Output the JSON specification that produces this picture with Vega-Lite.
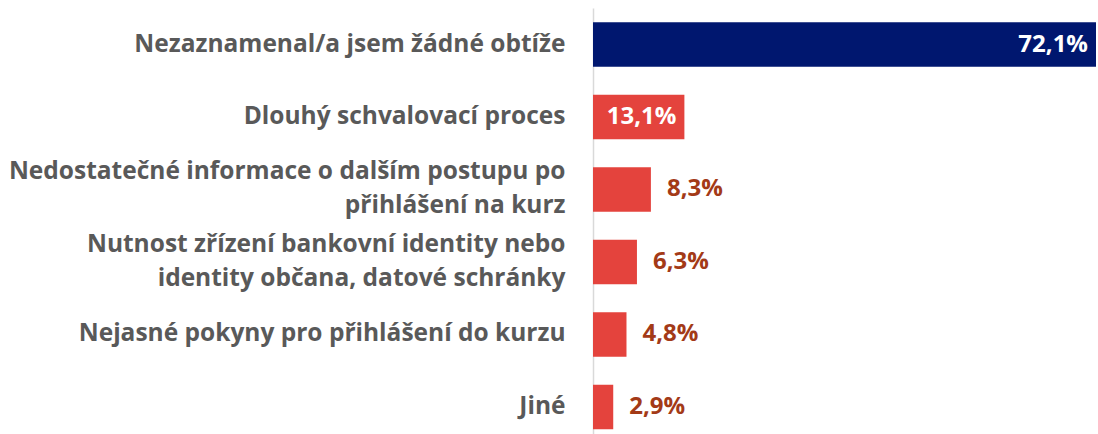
{
  "$schema": "https://vega.github.io/schema/vega-lite/v6.json",
  "autosize": {"type": "none"},
  "padding": {"left": 593, "top": 8, "right": 2, "bottom": 0},
  "width": 503,
  "height": 426,
  "background": "#ffffff",
  "config": {"view": {"stroke": null}, "font": "Open Sans"},
  "data": {
    "values": [
      {"cat": "Nezaznamenal/a jsem žádné obtíže", "value": 72.1, "label": "72,1%"},
      {"cat": "Dlouhý schvalovací proces", "value": 13.1, "label": "13,1%"},
      {"cat": "Nedostatečné informace o dalším postupu po|přihlášení na kurz", "value": 8.3, "label": "8,3%"},
      {"cat": "Nutnost zřízení bankovní identity nebo|identity občana, datové schránky", "value": 6.3, "label": "6,3%"},
      {"cat": "Nejasné pokyny pro přihlášení do kurzu", "value": 4.8, "label": "4,8%"},
      {"cat": "Jiné", "value": 2.9, "label": "2,9%"}
    ]
  },
  "encoding": {
    "y": {
      "field": "cat", "type": "nominal", "sort": null,
      "scale": {"paddingInner": 0.386, "paddingOuter": 0.131, "align": 0.75},
      "axis": {
        "title": null, "ticks": false, "labelPadding": 28,
        "labelExpr": "split(datum.label, '|')",
        "labelOffset": {"condition": {"test": "indexof(datum.value, '|') >= 0", "value": -17}, "value": 0},
        "labelFont": "Open Sans", "labelFontSize": 24.5, "labelFontWeight": "bold",
        "labelColor": "#595959", "labelLineHeight": 34, "labelLimit": 700,
        "domainColor": "#d9d9d9", "domainWidth": 1.5, "grid": false
      }
    },
    "x": {
      "field": "value", "type": "quantitative",
      "scale": {"domain": [0, 72.1], "nice": false},
      "axis": null
    }
  },
  "layer": [
    {
      "mark": {"type": "bar"},
      "encoding": {
        "color": {
          "condition": {"test": "datum.value > 50", "value": "#00176f"},
          "value": "#e4433d"
        }
      }
    },
    {
      "transform": [{"filter": "datum.value > 10"}],
      "mark": {"type": "text", "align": "right", "baseline": "middle", "dx": -8, "font": "Open Sans", "fontSize": 24, "fontWeight": "bold", "color": "#ffffff"},
      "encoding": {"text": {"field": "label"}}
    },
    {
      "transform": [{"filter": "datum.value <= 10"}],
      "mark": {"type": "text", "align": "left", "baseline": "middle", "dx": 16, "font": "Open Sans", "fontSize": 24, "fontWeight": "bold", "color": "#a33a17"},
      "encoding": {"text": {"field": "label"}}
    }
  ]
}
